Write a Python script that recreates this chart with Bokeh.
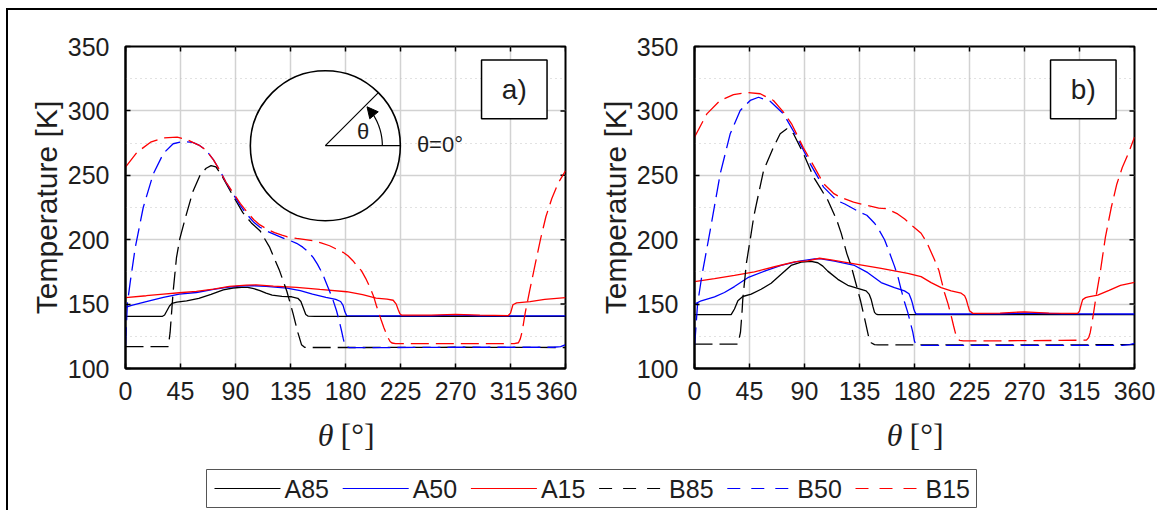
import numpy as np
from bokeh.plotting import figure
from bokeh.models import (FixedTicker, Range1d, Arrow, NormalHead)
from bokeh.layouts import column, row
from bokeh.embed import file_html
from bokeh.resources import INLINE
from bokeh.core.properties import value

FONT = "Liberation Sans"
SERIF = "Liberation Serif"
TXT = "#1e1e1e"

XTICKS = [0, 45, 90, 135, 180, 225, 270, 315, 360]
YTICKS = [100, 150, 200, 250, 300, 350]
YMINOR = [125, 175, 225, 275, 325]

SERIES = ["A85", "A50", "A15", "B85", "B50", "B15"]
COLORS = {"A85": "#000000", "A50": "#0000ff", "A15": "#ff0000",
          "B85": "#000000", "B50": "#0000ff", "B15": "#ff0000"}

# ---------------- panel a) ----------------
a_A85_x = [0, 30, 32, 34, 36, 38, 42, 50, 60, 70, 80, 88, 95, 100, 105, 110, 115, 120, 128, 136,
           141, 143.5, 145.5, 147.5, 149.5, 155, 200, 270, 360]
a_A85_y = [140.4, 140.4, 141.5, 145, 148.5, 150.5, 151.5, 152.5, 154.5, 157.5, 161, 162.5, 163, 163,
           162, 160.5, 158.5, 157, 156, 155.7, 154.5, 152, 147, 142, 140.6, 140.4, 140.4, 140.6, 140.4]

a_A50_x = [0, 5, 17, 31, 44, 58, 72, 83, 93, 104, 115, 132, 143, 153, 164, 172, 176, 178, 179.5,
           181, 200, 250, 270, 290, 360]
a_A50_y = [147.5, 149, 152, 155.2, 157.8, 159, 161.4, 163, 164, 164.3, 163.7, 162.4, 160.4, 157.8,
           155.2, 153.6, 152, 149, 144, 141, 140.8, 140.8, 141.6, 140.8, 140.8]

a_A15_x = [0, 17, 31, 44, 58, 72, 85, 99, 107, 121, 140, 159, 181, 194, 205, 214, 219, 221.5, 223,
           224.5, 226, 250, 270, 290, 313, 315, 317, 320, 331, 343, 360]
a_A15_y = [155, 156.5, 157.8, 158.8, 159.9, 161.7, 163.7, 164.8, 165, 163.9, 163, 161.4, 159.6,
           157.3, 154.7, 153.8, 153, 150, 146, 142.5, 141.4, 141.4, 142, 141.4, 141, 143, 149.5,
           151, 152, 153.7, 155]

a_B85_x = [0, 35, 36.5, 38, 39, 41.7, 44.5, 49, 55, 61, 66, 70, 74, 78, 88, 96, 103, 110, 118,
           126, 132, 137, 141, 144, 146.5, 150, 200, 270, 360]
a_B85_y = [117, 117, 128, 147, 160, 186, 201, 217, 237, 250, 255.5, 257.5, 256.5, 251, 234, 221,
           213, 207, 194, 176, 160, 143, 128, 118.5, 116.5, 116.3, 116.3, 116.5, 116.3]

a_B50_x = [0, 0.5, 1.5, 4, 8, 14.5, 22.7, 31, 39, 47, 55, 60, 66, 72, 77, 82, 88, 94, 99, 105,
           110, 116, 123.7, 130, 135, 140, 145, 149, 153.5, 157, 161, 164, 167, 170, 172.6, 175,
           176.7, 178.2, 179.4, 181, 183, 200, 270, 350, 356, 360]
a_B50_y = [118, 128, 150, 168, 194, 225, 251, 267, 274.5, 276.3, 275.5, 273.5, 269.5, 262, 254,
           245, 235.6, 226.5, 220, 213.5, 209.7, 206.5, 203.3, 200.8, 199.2, 197.2, 194.2, 191,
           186.3, 181, 174, 167, 160, 152.5, 145, 136.5, 129.5, 123, 118.5, 116.7, 116.3, 116.2,
           116.5, 116.5, 117, 118.5]

a_B15_x = [0, 9.5, 20.5, 31.4, 42.3, 50.5, 55, 60, 66, 72, 77, 82, 88, 94, 99, 105, 110, 116,
           122, 128, 132, 140, 153.5, 160, 167, 172, 178, 182, 186, 190, 193, 196.5, 200, 203,
           205.3, 207.5, 209.4, 211.5, 213.5, 215, 216.5, 218, 221, 250, 300, 318, 321.5, 323,
           324.6, 327, 330.6, 335, 339.7, 344, 348.8, 354, 360]
a_B15_y = [256.3, 267.9, 275.7, 279.1, 279.6, 277.6, 275.5, 273.5, 269.5, 262, 254, 245, 236.5,
           228, 222, 215.5, 211.5, 208, 205.5, 203.5, 202.3, 201, 199.2, 197.5, 195.3, 193, 190.2,
           187.5, 183.7, 179, 176, 170, 163, 156, 148.7, 142.5, 137, 131.5, 126.7, 123.5, 121,
           119.8, 119.3, 119.3, 119.3, 119.3, 120, 123, 129, 143, 160, 180, 201, 218, 232, 244,
           253.5]

# ---------------- panel b) ----------------
b_A85_x = [0, 30, 32.7, 35.5, 39.5, 46.4, 54.5, 62.7, 70.9, 79, 87.3, 95.4, 100.9, 105, 109,
           117.3, 125.4, 133.6, 140.4, 143, 144.5, 146, 147.3, 148.7, 150, 200, 270, 360]
b_A85_y = [141.8, 141.8, 146.2, 152.6, 155.9, 157.7, 161.5, 166.2, 173.1, 180, 182.6, 183.1,
           182.1, 179.5, 175.6, 169.2, 164.6, 162.3, 160.3, 157.5, 153.8, 148, 143.6, 142.2, 141.8,
           141.8, 141.8, 141.8]

b_A50_x = [0, 5.5, 16.4, 24.5, 32.7, 43.6, 57.3, 70.9, 84.5, 98.2, 103.6, 114.5, 130.9, 141.8,
           152.7, 163.6, 171.8, 175.5, 177.3, 178.5, 179.4, 180.5, 181.3, 200, 250, 270, 300, 360]
b_A50_y = [150, 152.6, 155.6, 159, 163.6, 170.5, 175.6, 180, 183.1, 185.1, 185.1, 183.3, 180,
           174.4, 166.7, 162.8, 160.3, 158, 153.8, 150, 146.2, 143.5, 142.3, 142.3, 142.5, 143,
           142.5, 142.3]

b_A15_x = [0, 16.4, 32.7, 49.1, 65.5, 81.8, 92.7, 102.3, 111.8, 130.9, 152.7, 174.5, 185.4, 193.6,
           201.8, 210, 218.2, 221, 222.3, 223.7, 225, 227.7, 250, 270, 290, 313.5, 315, 316.5,
           317.6, 320, 322.2, 329.9, 339.2, 348.5, 360]
b_A15_y = [167.4, 169.7, 172.3, 175.1, 179, 182.8, 183.6, 185.6, 184.4, 181.3, 177.7, 173.8, 171.3,
           166.7, 162.8, 160.3, 158.5, 156.5, 153.8, 149, 144.9, 142.8, 143, 144, 143, 142.8,
           144.5, 150, 153.5, 155, 155.6, 156.9, 160.7, 164.6, 166.8]

b_B85_x = [0, 35.5, 37.6, 38.8, 39.5, 42.5, 46.4, 48.5, 50.5, 56.5, 64.6, 70.1, 75.6, 81, 89.2,
           97.4, 103, 109, 116.5, 120, 124.7, 128.2, 132.9, 136, 139, 142.4, 144.5, 147.3, 150,
           200, 270, 360]
b_B85_y = [119, 119, 128, 142.5, 153.8, 182, 205, 218, 227, 253.7, 271.8, 282.2, 286.1, 282.2,
           266.7, 248.6, 240, 230.8, 214.9, 205.1, 189, 179.5, 163.1, 152, 139.5, 125, 120, 118.5,
           118.3, 118.3, 118.3, 118.5]

b_B50_x = [0, 0.6, 2.5, 6, 12.8, 21, 29.2, 37.4, 45.6, 52.4, 61.9, 72.8, 83.8, 94.7, 105.6, 116.5,
           123, 130.1, 135.3, 141, 144.6, 147.3, 151, 155.5, 159.5, 163.6, 166.5, 169, 172, 174.5,
           176.5, 178.6, 180, 181.7, 185, 250, 350, 356, 360]
b_B50_y = [118, 124.3, 150, 172, 207, 251, 282.2, 300.3, 308.1, 310.6, 307.5, 297.7, 279.6, 258.9,
           240.8, 230.4, 227.7, 224, 221.3, 219, 215.5, 212.8, 207.5, 200, 190, 179.5, 171, 161.5,
           151, 143.6, 136, 128.2, 121, 118.3, 118, 118, 118, 118.5, 119.5]

b_B15_x = [0, 10.1, 21, 31.9, 42.9, 53.8, 64.6, 72.8, 79.7, 89, 98.3, 105.6, 113.7, 119.2, 130.1,
           141, 150.8, 157.4, 166.2, 172, 178.6, 185.4, 190, 196.3, 200, 204.5, 207.5, 210, 212,
           214, 216.8, 220, 250, 300, 320.7, 322.5, 323.8, 326, 328.5, 332, 336.2, 341, 345.5, 350,
           354.7, 360]
b_B15_y = [279.6, 297.7, 308.1, 312.7, 314.3, 313.3, 308.1, 299, 289.5, 271.5, 256, 243.5, 236,
           233, 229.1, 226.6, 224.5, 224, 220, 216, 210.5, 205, 198, 184.6, 176, 159, 150, 141,
           133, 125.6, 121.8, 121.5, 121.5, 121.8, 122, 124, 128, 140, 155.6, 175, 202, 225, 243.1,
           256, 266.3, 279.6]

PANELS = {
    "a)": {"A85": (a_A85_x, a_A85_y), "A50": (a_A50_x, a_A50_y), "A15": (a_A15_x, a_A15_y),
           "B85": (a_B85_x, a_B85_y), "B50": (a_B50_x, a_B50_y), "B15": (a_B15_x, a_B15_y)},
    "b)": {"A85": (b_A85_x, b_A85_y), "A50": (b_A50_x, b_A50_y), "A15": (b_A15_x, b_A15_y),
           "B85": (b_B85_x, b_B85_y), "B50": (b_B50_x, b_B50_y), "B15": (b_B15_x, b_B15_y)},
}

DASH_PLOT = "18 7"
DASH_LEG = "13 11"
FRAME_W, FRAME_H = 440, 322
BORDER_L = 117


def make_panel(letter, width, border_right, with_sketch):
    p = figure(width=width, height=404, x_range=Range1d(0, 360), y_range=Range1d(100, 350),
               output_backend="svg", toolbar_location=None,
               min_border_left=BORDER_L, min_border_right=border_right,
               min_border_top=36, min_border_bottom=46,
               background_fill_color="white", border_fill_color="white")
    p.outline_line_color = "black"
    p.outline_line_width = 2

    xa = p.xaxis[0]
    ya = p.yaxis[0]
    xa.ticker = FixedTicker(ticks=XTICKS)
    ya.ticker = FixedTicker(ticks=YTICKS, minor_ticks=YMINOR)
    for ax in (xa, ya):
        ax.major_tick_in = 5
        ax.major_tick_out = 0
        ax.major_tick_line_width = 1.5
        ax.minor_tick_line_color = None
        ax.axis_line_width = 2
        ax.major_label_text_font = FONT
        ax.major_label_text_font_size = "25px"
        ax.major_label_text_color = TXT
    xa.major_label_standoff = 13
    ya.major_label_standoff = 12
    ya.axis_label = "Temperature [K]"
    ya.axis_label_text_font = FONT
    ya.axis_label_text_font_size = "30px"
    ya.axis_label_text_font_style = "normal"
    ya.axis_label_text_color = TXT
    ya.axis_label_standoff = 2

    p.xgrid.grid_line_color = "#d2d2d2"
    p.xgrid.grid_line_width = 1.5
    p.ygrid.grid_line_color = "#d2d2d2"
    p.ygrid.grid_line_width = 1.5
    p.ygrid.minor_grid_line_color = "#c4c4c4"
    p.ygrid.minor_grid_line_width = 1.2
    p.ygrid.minor_grid_line_dash = "1 4"

    # inward tick marks on the right and top edges (box on)
    tx = 5 * 360 / FRAME_W
    ty = 5 * 250 / FRAME_H
    p.segment(x0=[360 - tx] * len(YTICKS), y0=YTICKS, x1=[360] * len(YTICKS), y1=YTICKS,
              line_color="black", line_width=1.5)
    p.segment(x0=XTICKS, y0=[350 - ty] * len(XTICKS), x1=XTICKS, y1=[350] * len(XTICKS),
              line_color="black", line_width=1.5)

    data = PANELS[letter]
    for name in SERIES:
        xs, ys = data[name]
        p.line(xs, ys, line_color=COLORS[name], line_width=1.3,
               line_dash=("solid" if name.startswith("A") else DASH_PLOT))

    # panel letter box
    p.quad(left=[291.3], right=[344.9], bottom=[294], top=[339.5], fill_color="white",
           line_color="black", line_width=1.5)
    p.text(x=[318.1], y=[316.7], text=[letter], text_font=value(FONT), text_font_size="28px",
           text_align="center", text_baseline="middle", text_color=TXT)

    if with_sketch:
        cx, cy = 163.5, 273.0
        sx, sy = 360 / FRAME_W, 250 / FRAME_H  # data units per pixel
        p.ellipse(x=[cx], y=[cy], width=150, height=150, width_units="screen",
                  height_units="screen", fill_color="white", line_color="black", line_width=1.6)
        p.line([cx, cx + 75 * sx], [cy, cy], line_color="black", line_width=1.2)
        ang = np.deg2rad(45)
        p.line([cx, cx + 75 * np.cos(ang) * sx], [cy, cy + 75 * np.sin(ang) * sy],
               line_color="black", line_width=1.2)
        t = np.deg2rad(np.linspace(0, 37, 30))
        r = 57
        p.line(cx + r * np.cos(t) * sx, cy + r * np.sin(t) * sy, line_color="black",
               line_width=1.2)
        t1, t2 = np.deg2rad(36), np.deg2rad(43)
        p.add_layout(Arrow(end=NormalHead(size=11, fill_color="black", line_color="black"),
                           x_start=cx + r * np.cos(t1) * sx, y_start=cy + r * np.sin(t1) * sy,
                           x_end=cx + r * np.cos(t2) * sx, y_end=cy + r * np.sin(t2) * sy,
                           line_width=1.2, line_color="black"))
        p.text(x=[194.5], y=[284], text=["θ"], text_font=value(FONT), text_font_size="22px",
               text_align="center", text_baseline="middle", text_color=TXT)
        p.text(x=[238.4], y=[274], text=["θ=0°"], text_font=value(FONT),
               text_font_size="22px", text_align="left", text_baseline="middle",
               text_color=TXT)
    return p


W1, W2 = 569, 580
p1 = make_panel("a)", W1, W1 - BORDER_L - FRAME_W, True)
p2 = make_panel("b)", W2, W2 - BORDER_L - FRAME_W, False)

# bottom strip: x-axis titles of both panels + legend (pixel coordinates)
BW, BH = W1 + W2, 96
bf = figure(width=BW, height=BH, x_range=Range1d(0, BW), y_range=Range1d(0, BH),
            output_backend="svg", toolbar_location=None, min_border=0,
            x_axis_type=None, y_axis_type=None, outline_line_color=None)
xlab_center = [BORDER_L + FRAME_W / 2, W1 + BORDER_L + FRAME_W / 2]
bf.text(x=[c - 12 for c in xlab_center], y=[76, 76], text=["θ", "θ"], text_font=value(SERIF),
        text_font_style="italic", text_font_size="32px", text_align="right",
        text_baseline="middle", text_color=TXT)
bf.text(x=[c - 5 for c in xlab_center], y=[76, 76], text=["[°]", "[°]"], text_font=value(SERIF),
        text_font_size="32px", text_align="left", text_baseline="middle", text_color=TXT)

# legend (drawn by hand)
LEG_L, LEG_R, LEG_B, LEG_T = 198, 968, 3, 41
ITEM_STEP = 128.2
bf.quad(left=[LEG_L], right=[LEG_R], bottom=[LEG_B], top=[LEG_T], fill_color="white",
        line_color="#555555", line_width=1)
ly = (LEG_B + LEG_T) / 2
for i, name in enumerate(SERIES):
    x0 = LEG_L + 8 + ITEM_STEP * i
    bf.line([x0, x0 + 66], [ly, ly], line_color=COLORS[name], line_width=1.2,
            line_dash=("solid" if name.startswith("A") else DASH_LEG))
bf.text(x=[LEG_L + 8 + ITEM_STEP * i + 70 for i in range(len(SERIES))], y=[ly] * len(SERIES),
        text=SERIES, text_font=value(FONT), text_font_size="25px", text_align="left",
        text_baseline="middle", text_color=TXT)

layout = column(row(p1, p2), bf,
                styles={"margin-left": "6px", "margin-top": "8px",
                        "border-left": "2px solid black", "border-top": "2px solid black"})

open("out.html", "w").write(file_html(layout, INLINE))
